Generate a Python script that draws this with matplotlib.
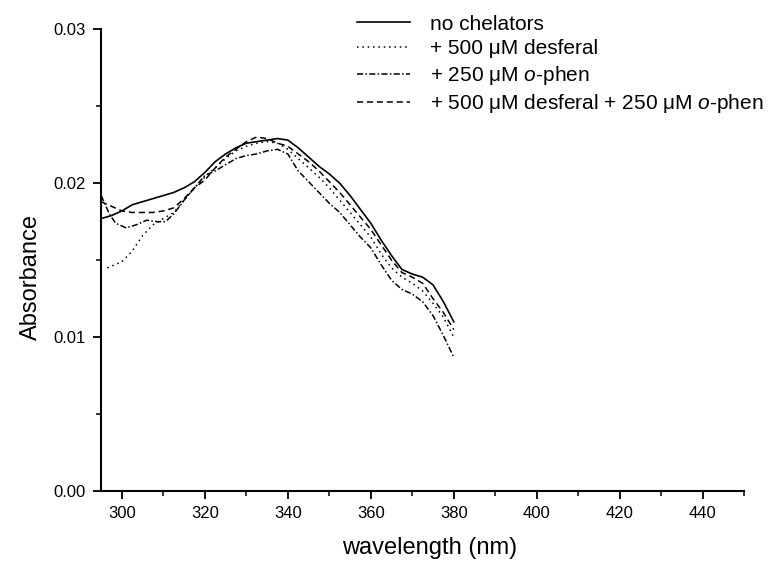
import matplotlib
matplotlib.use("Agg")
import matplotlib.pyplot as plt
from matplotlib.ticker import MultipleLocator, FormatStrFormatter

plt.rcParams['font.family'] = ['Liberation Sans', 'DejaVu Sans']
plt.rcParams['mathtext.fontset'] = 'custom'
plt.rcParams['mathtext.rm'] = 'Liberation Sans'
plt.rcParams['mathtext.it'] = 'Liberation Sans:italic'

# no chelators
x_none = [295, 297.5, 300, 302.5, 305, 307.5, 310, 312.5, 315, 317.5, 320, 322.5,
          325, 327.5, 330, 332.5, 335, 337.5, 340, 342.5, 345, 347.5, 350, 352.5,
          355, 357.5, 360, 362.5, 365, 367.5, 370, 372.5, 375, 377.5, 380]
y_none = [0.0177, 0.0179, 0.0182, 0.0186, 0.0188, 0.0190, 0.0192, 0.0194, 0.0197, 0.0201,
          0.0207, 0.0214, 0.0219, 0.0223, 0.0226, 0.0227, 0.0228, 0.0229, 0.0228, 0.0223,
          0.0217, 0.0211, 0.0206, 0.0200, 0.0192, 0.0183, 0.0174, 0.0163, 0.0153, 0.0144,
          0.0141, 0.0139, 0.0134, 0.0123, 0.0110]

# + 500 uM desferal
x_desf = [296.5, 300, 302.5, 305, 307.5, 310, 312.5, 315, 317.5, 320, 322.5,
          325, 327.5, 330, 332.5, 335, 337.5, 340, 342.5, 345, 347.5, 350, 352.5,
          355, 357.5, 360, 362.5, 365, 367.5, 370, 372.5, 375, 377.5, 380]
y_desf = [0.0145, 0.0149, 0.0156, 0.0166, 0.0173, 0.0177, 0.0181, 0.0189, 0.0197, 0.0204,
          0.0210, 0.0216, 0.0221, 0.0224, 0.0226, 0.0227, 0.0226, 0.0222, 0.0216, 0.0210,
          0.0204, 0.0197, 0.0189, 0.0181, 0.0173, 0.0165, 0.0154, 0.0145, 0.0139, 0.0135,
          0.0130, 0.0122, 0.0113, 0.0100]

# + 250 uM o-phen
x_phen = [295, 297, 298.5, 301, 303.5, 306, 308.5, 310.5, 312.5, 315, 317.5, 320, 322.5,
          325, 327.5, 330, 332.5, 335, 337.5, 340, 342.5, 345, 347.5, 350, 352.5,
          355, 357.5, 360, 362.5, 365, 367.5, 370, 372.5, 375, 377.5, 380]
y_phen = [0.0192, 0.0180, 0.0174, 0.0171, 0.0173, 0.0176, 0.0175, 0.0175, 0.0180, 0.0189,
          0.0197, 0.0205, 0.0208, 0.0212, 0.0216, 0.0218, 0.0219, 0.0221, 0.0222, 0.0219,
          0.0208, 0.0201, 0.0194, 0.0187, 0.0181, 0.0173, 0.0165, 0.0158, 0.0147, 0.0137,
          0.0131, 0.0128, 0.0123, 0.0114, 0.0101, 0.0087]

# + 500 uM desferal + 250 uM o-phen
x_both = [295, 297.5, 300, 302.5, 305, 307.5, 310, 312.5, 315, 317.5, 320, 322.5,
          325, 327.5, 330, 332.5, 335, 337.5, 340, 342.5, 345, 347.5, 350, 352.5,
          355, 357.5, 360, 362.5, 365, 367.5, 370, 372.5, 375, 377.5, 380]
y_both = [0.0188, 0.0185, 0.0182, 0.0181, 0.0181, 0.0181, 0.0182, 0.0184, 0.0190, 0.0197,
          0.0202, 0.0210, 0.0217, 0.0222, 0.0227, 0.0230, 0.0229, 0.0226, 0.0224, 0.0219,
          0.0214, 0.0208, 0.0201, 0.0194, 0.0186, 0.0178, 0.0170, 0.0160, 0.0150, 0.0142,
          0.0139, 0.0135, 0.0125, 0.0116, 0.0105]

labels = ['no chelators',
          '+ 500 \u03bcM desferal',
          '+ 250 \u03bcM $\\mathit{o}$-phen',
          '+ 500 \u03bcM desferal + 250 \u03bcM $\\mathit{o}$-phen']

fig = plt.figure(figsize=(7.72, 5.62), dpi=100)
ax = fig.add_axes([0.131, 0.126, 0.833, 0.822])

ax.plot(x_none, y_none, color='black', lw=1.2, ls='-', label=labels[0])
ax.plot(x_desf, y_desf, color='black', lw=1.1, ls=(0, (1, 2.5)), label=labels[1])
ax.plot(x_phen, y_phen, color='black', lw=1.1, ls=(0, (4, 1.5, 1, 1.5)), label=labels[2])
ax.plot(x_both, y_both, color='black', lw=1.1, ls=(0, (4, 2.5)), label=labels[3])

ax.set_xlim(295, 450)
ax.set_ylim(0, 0.03)
ax.set_xticks([300, 320, 340, 360, 380, 400, 420, 440])
ax.xaxis.set_minor_locator(MultipleLocator(10))
ax.yaxis.set_major_locator(MultipleLocator(0.01))
ax.yaxis.set_minor_locator(MultipleLocator(0.005))
ax.yaxis.set_major_formatter(FormatStrFormatter('%.2f'))

for s in ['top', 'right']:
    ax.spines[s].set_visible(False)
for s in ['left', 'bottom']:
    ax.spines[s].set_linewidth(1.5)
ax.tick_params(which='major', direction='out', length=6, width=1.3, labelsize=12, pad=5)
ax.tick_params(which='minor', direction='out', length=3.5, width=1.1)

ax.set_xlabel('wavelength (nm)', fontsize=17)
ax.set_ylabel('Absorbance', fontsize=17)
ax.xaxis.set_label_coords(0.51, -0.10)
ax.yaxis.set_label_coords(-0.092, 0.463)

fig.legend(loc='upper left', bbox_to_anchor=(0.4625, 0.974), frameon=False,
           fontsize=15, handlelength=2.55, handletextpad=0.95, labelspacing=0.27,
           borderpad=0, borderaxespad=0)

fig.savefig('out.png', dpi=100)
